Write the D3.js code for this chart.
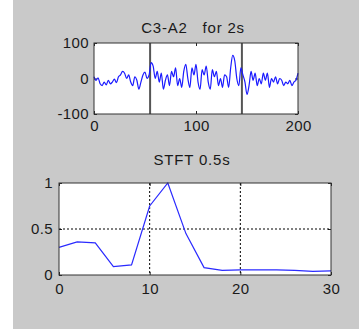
<!DOCTYPE html>
<html>
<head>
<meta charset="utf-8">
<script src="https://cdn.jsdelivr.net/npm/d3@7"></script>
<style>
  body { margin: 0; background: #fff; }
  svg { display: block; }
  text { font-family: "Liberation Sans", Arial, sans-serif; fill: #1a1a1a; }
</style>
</head>
<body>
<div id="chart"></div>
<script>
// EEG trace C3-A2, one value every 2 samples (0..200)
const eegT = d3.range(0, 201, 2);
const eegV = [5, -5, 2, -15, -20, -10, -18, -5, -15, -10, -2, -12, 5, 10, 20, 15, 0, 10, -10, -20,
  5, -5, -30, -10, 10, 18, 0, 10, 45, 35, 0, 20, -10, 15, -30, -5, 10, -20, 20, 5,
  30, -20, 0, -25, 20, 40, 0, -25, 30, 10, 40, -10, -30, 25, 10, 35, -10, -30, 25, 5,
  20, -20, 0, -25, 10, 5, -25, 30, 65, 50, 0, -20, 30, 10, -10, -45, -20, 20, -5, 15,
  -20, 0, -15, 15, -5, 15, -25, 0, -10, 5, -15, 0, -5, -20, -10, -15, -5, -20, -10, -5, 15];
const epochMarks = [55, 145];
const eegXTicks = [0, 100, 200];
const eegYTicks = [-100, 0, 100];

// STFT spectrum, normalised
const freq = [0, 2, 4, 6, 8, 10, 12, 14, 16, 18, 20, 22, 24, 26, 28, 30];
const power = [0.30, 0.36, 0.35, 0.09, 0.11, 0.75, 1.0, 0.45, 0.08, 0.05, 0.055, 0.055, 0.055, 0.05, 0.04, 0.045];
const stftXTicks = [0, 10, 20, 30];
const stftYTicks = [0, 0.5, 1];

const W = 359, H = 329;
const svg = d3.select("#chart").append("svg").attr("width", W).attr("height", H);
svg.append("rect").attr("x", 13).attr("y", 0).attr("width", W - 13).attr("height", H).attr("fill", "#c9c9c9");

function panel(box, xd, yd, xt, yt, title, titleGap, padX, padY) {
  const x = d3.scaleLinear().domain(xd).range([box.l, box.r]);
  const y = d3.scaleLinear().domain(yd).range([box.b, box.t]);
  svg.append("rect").attr("x", box.l).attr("y", box.t)
    .attr("width", box.r - box.l).attr("height", box.b - box.t).attr("fill", "#fff");
  const fmt = d => String(d);
  const g = svg.append("g");
  g.append("g").attr("transform", `translate(0,${box.b})`)
    .call(d3.axisBottom(x).tickValues(xt).tickFormat(fmt).tickSize(-3).tickPadding(padX));
  g.append("g").attr("transform", `translate(0,${box.t})`)
    .call(d3.axisTop(x).tickValues(xt).tickFormat("").tickSize(-3));
  g.append("g").attr("transform", `translate(${box.l},0)`)
    .call(d3.axisLeft(y).tickValues(yt).tickFormat(fmt).tickSize(-3).tickPadding(padY));
  g.append("g").attr("transform", `translate(${box.r},0)`)
    .call(d3.axisRight(y).tickValues(yt).tickFormat("").tickSize(-3));
  g.selectAll(".domain").remove();
  g.selectAll(".tick line").attr("stroke", "#222");
  g.selectAll(".tick text").style("font-size", "15px").style("letter-spacing", "0.4px").attr("fill", "#1a1a1a");
  svg.append("text").attr("x", (box.l + box.r) / 2 - 3).attr("y", box.t - titleGap)
    .attr("text-anchor", "middle").style("font-size", "15px").style("letter-spacing", "0.8px")
    .style("white-space", "pre")
    .text(title);
  return { x, y };
}

// top: EEG trace
const topBox = { l: 94, r: 298, t: 43, b: 114 };
const p1 = panel(topBox, [0, 200], [-100, 100], eegXTicks, eegYTicks, "C3-A2   for 2s", 10, 6, 5);
svg.append("g").selectAll("line").data(epochMarks).join("line")
  .attr("x1", d => p1.x(d)).attr("x2", d => p1.x(d))
  .attr("y1", topBox.t).attr("y2", topBox.b)
  .attr("stroke", "#555").attr("stroke-width", 2);
svg.append("path")
  .datum(eegT.map((t, i) => [t, eegV[i]]))
  .attr("fill", "none").attr("stroke", "#1a1aff").attr("stroke-width", 1.2)
  .attr("d", d3.line().curve(d3.curveMonotoneX).x(d => p1.x(d[0])).y(d => p1.y(d[1])));
svg.append("rect").attr("x", topBox.l).attr("y", topBox.t)
  .attr("width", topBox.r - topBox.l).attr("height", topBox.b - topBox.t)
  .attr("fill", "none").attr("stroke", "#333");

// bottom: STFT spectrum
const botBox = { l: 59, r: 331, t: 183, b: 275 };
const p2 = panel(botBox, [0, 30], [0, 1], stftXTicks, stftYTicks, "STFT 0.5s", 18, 8, 6);
const grid = svg.append("g").attr("stroke", "#000").attr("stroke-dasharray", "2,2");
grid.selectAll("line.gx").data(stftXTicks.slice(1, -1)).join("line").attr("class", "gx")
  .attr("x1", d => p2.x(d)).attr("x2", d => p2.x(d))
  .attr("y1", botBox.t).attr("y2", botBox.b);
grid.selectAll("line.gy").data(stftYTicks.slice(1, -1)).join("line").attr("class", "gy")
  .attr("x1", botBox.l).attr("x2", botBox.r)
  .attr("y1", d => p2.y(d)).attr("y2", d => p2.y(d));
svg.append("path")
  .datum(freq.map((f, i) => [f, power[i]]))
  .attr("fill", "none").attr("stroke", "#2a2aff").attr("stroke-width", 1.2)
  .attr("d", d3.line().x(d => p2.x(d[0])).y(d => p2.y(d[1])));
svg.append("rect").attr("x", botBox.l).attr("y", botBox.t)
  .attr("width", botBox.r - botBox.l).attr("height", botBox.b - botBox.t)
  .attr("fill", "none").attr("stroke", "#333");
</script>
</body>
</html>
